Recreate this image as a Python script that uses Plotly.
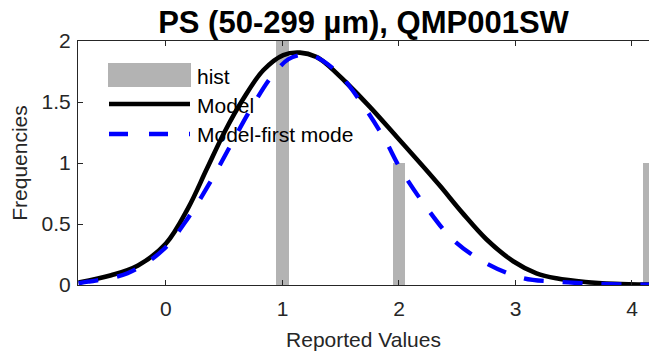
import plotly.graph_objects as go

# Histogram of reported values
hist_x = [1.0, 2.0, 4.15]
hist_y = [2.0, 1.0, 1.0]

# Fitted model (full mixture)
model_x = [-0.75, -0.47, -0.24, 0.0, 0.19, 0.35, 0.506, 0.66, 0.835, 1.007, 1.15,
           1.29, 1.38, 1.536, 1.75, 1.98, 2.2, 2.35, 2.55, 2.75, 2.98, 3.18, 3.35, 3.6,
           3.85, 4.15]
model_y = [0.02, 0.08, 0.16, 0.34, 0.63, 0.95, 1.26, 1.52, 1.76, 1.885, 1.905,
           1.87, 1.81, 1.67, 1.46, 1.215, 0.98, 0.815, 0.585, 0.375, 0.195, 0.096, 0.055,
           0.025, 0.01, 0.003]

# First mode of the model
mode_x = [-0.75, -0.67, -0.33, -0.026, 0.19, 0.39, 0.535, 0.72, 0.907, 1.05, 1.15, 1.236,
          1.465, 1.69, 1.88, 2.01, 2.24, 2.466, 2.75, 3.07, 3.35, 3.7, 4.15]
mode_y = [0.015, 0.027, 0.096, 0.287, 0.55, 0.86, 1.11, 1.43, 1.71, 1.85, 1.885, 1.89,
          1.75, 1.475, 1.19, 0.957, 0.63, 0.369, 0.178, 0.055, 0.027, 0.01, 0.002]

x_ticks = [0, 1, 2, 3, 4]
y_ticks = [0, 0.5, 1, 1.5, 2]
y_ticklabels = ["0", "0.5", "1", "1.5", "2"]

W, H = 649, 356
L, R, T, B = 78, 0, 41, 71
pw, ph = W - L - R, H - T - B


def px(xp):
    return (xp - L) / pw


def py(yp):
    return (H - B - yp) / ph


AX = "#262626"
GRAY = "#b3b3b3"
BLUE = "#0000ff"
FONT = "Liberation Sans, Arial, sans-serif"

fig = go.Figure()
fig.add_trace(go.Bar(x=hist_x, y=hist_y, width=0.105, marker=dict(color=GRAY, line=dict(width=0)),
                     name="hist", showlegend=False))
fig.add_trace(go.Scatter(x=model_x, y=model_y, mode="lines", name="Model", showlegend=False,
                         line=dict(color="black", width=4.6, shape="spline", smoothing=1)))
fig.add_trace(go.Scatter(x=mode_x, y=mode_y, mode="lines", name="Model-first mode", showlegend=False,
                         line=dict(color=BLUE, width=4.3, dash="20px,19px", shape="spline", smoothing=1)))

# Legend drawn by hand so the swatches keep their wide sample length
shapes = [
    dict(type="rect", xref="paper", yref="paper", x0=px(108), x1=px(191), y0=py(87), y1=py(63),
         fillcolor=GRAY, line=dict(width=0)),
    dict(type="line", xref="paper", yref="paper", x0=px(109), x1=px(190), y0=py(104), y1=py(104),
         line=dict(color="black", width=4.6)),
    dict(type="line", xref="paper", yref="paper", x0=px(109), x1=px(190), y0=py(134), y1=py(134),
         line=dict(color=BLUE, width=4.3, dash="19px,21px")),
]
annotations = []
for label, yy in [("hist", 76), ("Model", 105), ("Model-first mode", 134)]:
    annotations.append(dict(text=label, xref="paper", yref="paper", x=px(195), y=py(yy),
                            xanchor="left", yanchor="middle", showarrow=False,
                            font=dict(family=FONT, size=21, color="black")))

fig.update_layout(
    width=W, height=H,
    margin=dict(l=L, r=R, t=T, b=B, pad=0),
    paper_bgcolor="white", plot_bgcolor="white",
    bargap=0,
    title=dict(text="<b>PS (50-299 µm), QMP001SW</b>", xref="paper", x=0.5, xanchor="center",
               y=1 - 22 / H, yanchor="middle",
               font=dict(family=FONT, size=31, color="black")),
    shapes=shapes, annotations=annotations,
    xaxis=dict(range=[-0.755, 4.146], tickvals=x_ticks, ticks="inside", ticklen=5, tickcolor=AX,
               showline=True, linecolor=AX, linewidth=1, mirror="ticks", showgrid=False,
               zeroline=False, tickfont=dict(family=FONT, size=21, color=AX), ticklabelstandoff=5,
               title=dict(text="Reported Values", font=dict(family=FONT, size=21, color=AX), standoff=13)),
    yaxis=dict(range=[0, 2], tickvals=y_ticks, ticktext=y_ticklabels, ticks="inside", ticklen=5,
               tickcolor=AX, showline=True, linecolor=AX, linewidth=1, showgrid=False, zeroline=False,
               tickfont=dict(family=FONT, size=21, color=AX), ticklabelstandoff=2,
               title=dict(text="Frequencies", font=dict(family=FONT, size=21, color=AX), standoff=8)),
)

fig.write_html("out.html")
